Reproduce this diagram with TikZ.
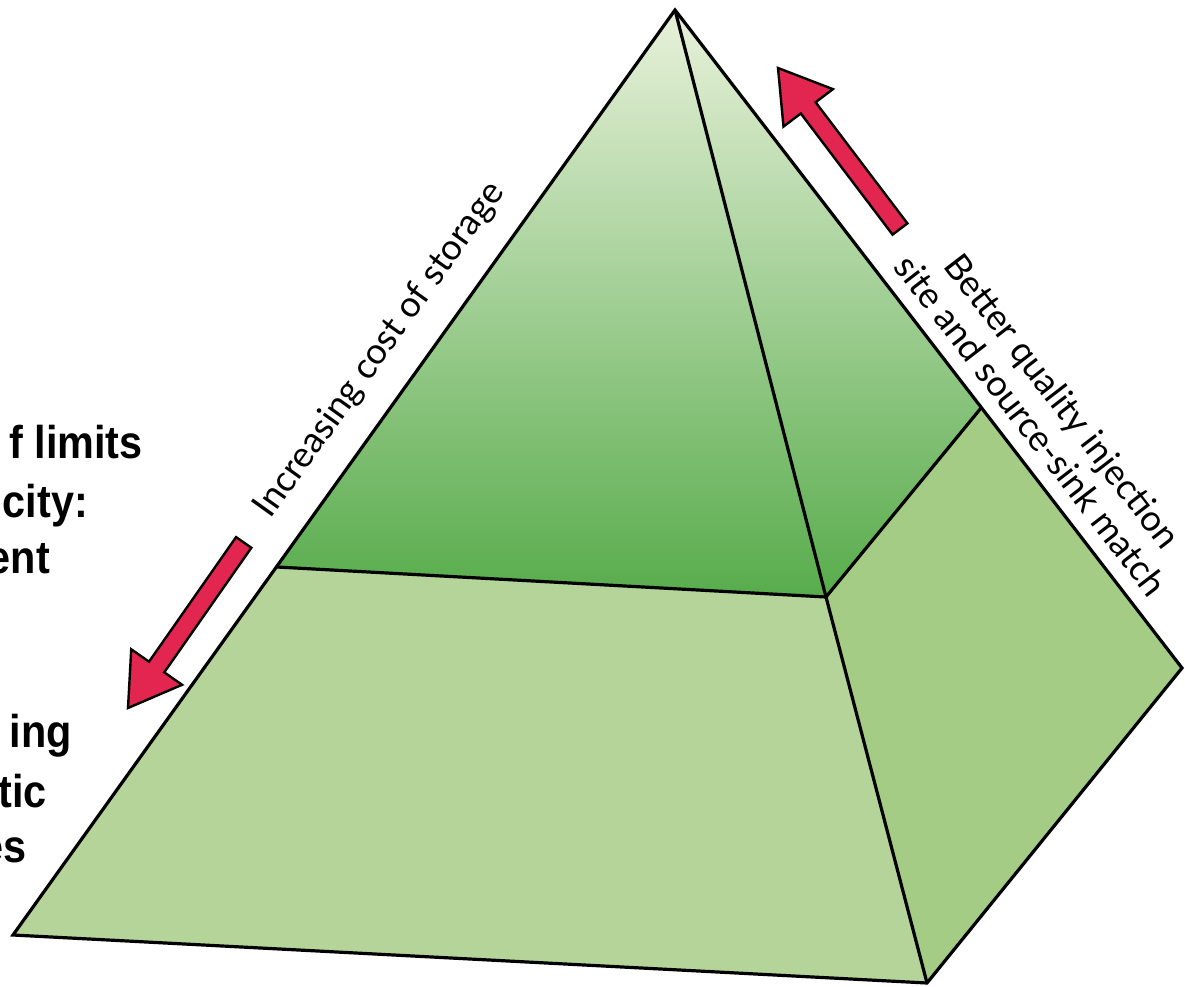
\documentclass[tikz,border=0pt]{standalone}
\usepackage{fontspec}
\newfontfamily\labelfont{Lato}
\newfontfamily\sidefont{Liberation Sans}
\usetikzlibrary{calc}
\definecolor{faceLow}{HTML}{B5D49A}
\definecolor{faceRight}{HTML}{A4CC85}
\definecolor{topLight}{HTML}{E8F1DA}
\definecolor{topMid}{HTML}{A6CE8C}
\definecolor{topDark}{HTML}{58AC4C}
\definecolor{arrowRed}{HTML}{E2264F}
\begin{document}
\begin{tikzpicture}[x=1pt,y=-1pt,
  edge/.style={line width=3.2pt, line join=miter},
  sidetext/.style={font=\labelfont\fontsize{36}{40}\selectfont, inner sep=0pt},
  boldtext/.style={font=\sidefont\bfseries\fontsize{46}{54}\selectfont, inner sep=0pt, anchor=base east, xscale=0.9},
  redarrow/.style={fill=arrowRed, draw=black, line width=2.4pt, line join=miter}]
\useasboundingbox (0,0) rectangle (1185,987);
% pyramid vertices
\coordinate (A) at (675,10);
\coordinate (L) at (13,935);
\coordinate (F) at (927,983);
\coordinate (R) at (1182,668);
\coordinate (M) at (826,597);
\coordinate (HL) at (277,567);
\coordinate (HR) at (981,408);
% faces
\fill[faceLow] (HL)--(M)--(F)--(L)--cycle;
\fill[faceRight] (M)--(HR)--(R)--(F)--cycle;
\shade[top color=topLight, middle color=topMid, bottom color=topDark] (A)--(HL)--(M)--cycle;
\shade[top color=topLight, middle color=topMid, bottom color=topDark] (A)--(M)--(HR)--cycle;
% edges
\draw[edge] (A)--(L)--(F)--(R)--cycle;
\draw[edge] (A)--(M)--(F);
\draw[edge] (HL)--(M)--(HR);
% arrows
\begin{scope}[shift={(128,708)}, rotate=55.05, x=1pt, y=1pt]
  \draw[redarrow] (0,0)--(50,31)--(50,9.3)--(202,9.3)--(202,-9.3)--(50,-9.3)--(50,-31)--cycle;
\end{scope}
\begin{scope}[shift={(778,68)}, rotate=-52.85, x=1pt, y=1pt]
  \draw[redarrow] (0,0)--(50,31)--(50,9.3)--(202,9.3)--(202,-9.3)--(50,-9.3)--(50,-31)--cycle;
\end{scope}
% side labels
\node[sidetext, rotate=54.4, anchor=base] (cost) at (388,356) {Increasing cost of storage};
\node[sidetext, rotate=-52.4, anchor=center, align=center] (better) at (1047,413) {Better quality injection\\site and source-sink match};
% cropped bold text at the left
\node[boldtext] (t1) at (143,458) {f limits};
\node[boldtext] (t2) at (88,517) {city:};
\node[boldtext] (t3) at (50,573) {ent};
\node[boldtext] (t4) at (72,747) {ing};
\node[boldtext] (t5) at (47,807) {tic};
\node[boldtext] (t6) at (27,862) {es};
\end{tikzpicture}
\end{document}
